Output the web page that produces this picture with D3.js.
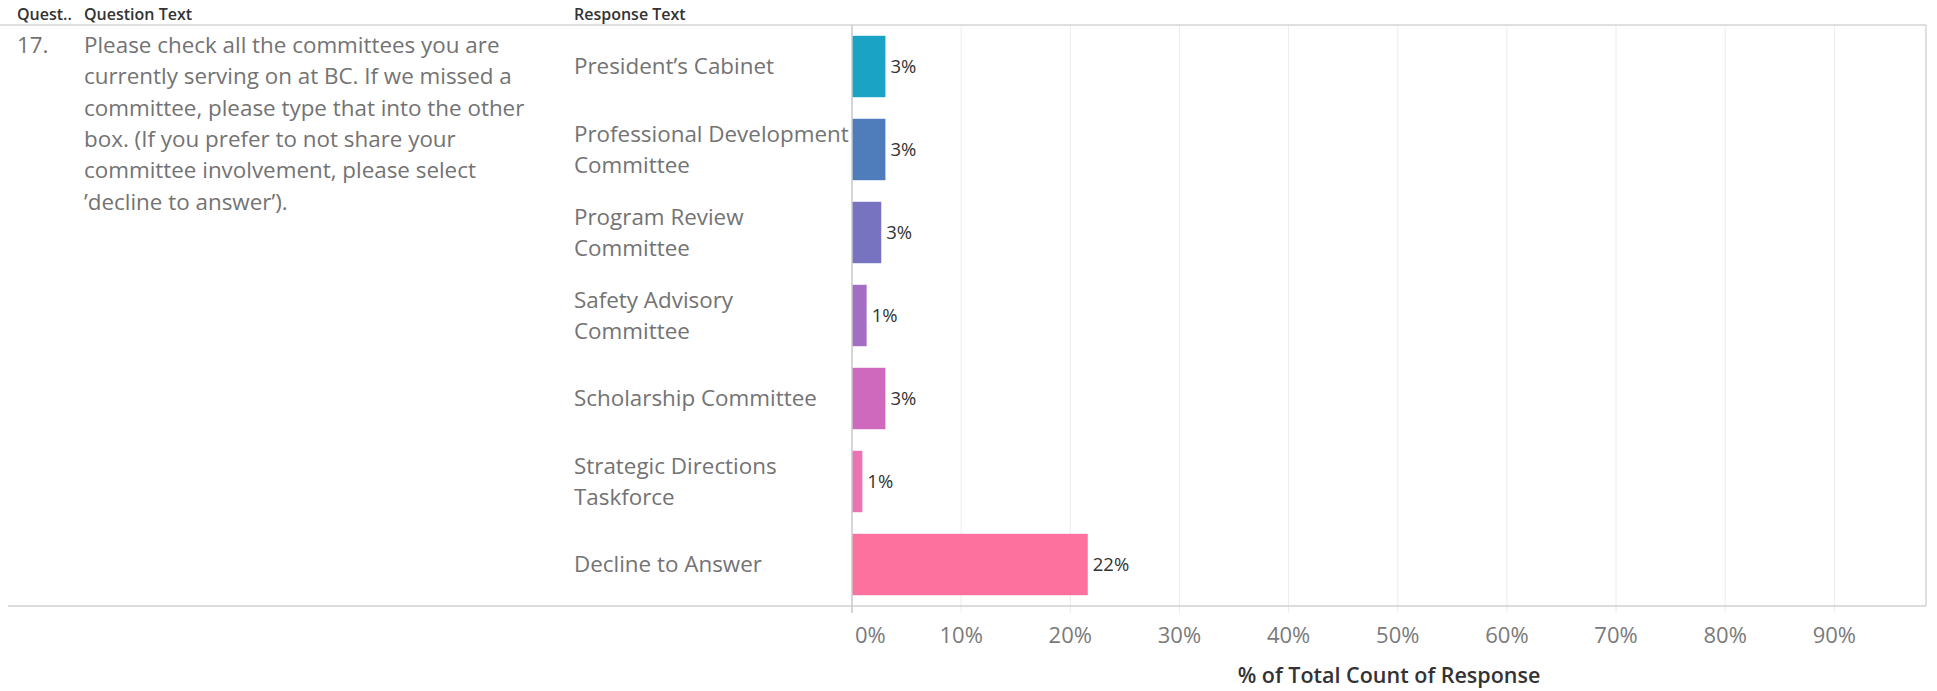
<!DOCTYPE html>
<html>
<head>
<meta charset="utf-8">
<script src="https://cdn.jsdelivr.net/npm/d3@7"></script>
<style>
  html, body { margin: 0; padding: 0; background: #fff; }
  svg { display: block; font-family: "Open Sans", "Noto Sans", sans-serif; }
</style>
</head>
<body>
<div id="chart"></div>
<script>
// Response categories (label lines as wrapped in the original)
const responses = [
  ['President\u2019s Cabinet'],
  ['Professional Development', 'Committee'],
  ['Program Review', 'Committee'],
  ['Safety Advisory', 'Committee'],
  ['Scholarship Committee'],
  ['Strategic Directions', 'Taskforce'],
  ['Decline to Answer']
];
// % of total count of response
const pctValues = [3.06, 3.06, 2.68, 1.34, 3.06, 0.95, 21.6];
const barColors = ['#1ba3c6', '#4f7cba', '#7873c0', '#a26dc2', '#ce69be', '#eb73b3', '#fc719e'];
const xTicks = [0, 10, 20, 30, 40, 50, 60, 70, 80, 90];

const questionNo = '17.';
const questionLines = [
  'Please check all the committees you are',
  'currently serving on at BC. If we missed a',
  'committee, please type that into the other',
  'box. (If you prefer to not share your',
  'committee involvement, please select',
  '\u2019decline to answer\u2019).'
];
const headers = ['Quest..', 'Question Text', 'Response Text'];

const W = 1937, H = 691;
const paneTop = 25, paneBottom = 606, x0 = 852, paneRight = 1926;
const textGray = '#737373';

const svg = d3.select('#chart').append('svg')
  .attr('width', W).attr('height', H);

const x = d3.scaleLinear().domain([0, (paneRight - x0) / 10.915]).range([x0, paneRight]);
const y = d3.scaleBand().domain(d3.range(responses.length))
  .range([paneTop, paneBottom]).paddingInner(0.26).paddingOuter(0.13);

// gridlines
svg.selectAll('.grid').data(xTicks.filter(d => d > 0)).enter().append('line')
  .attr('x1', d => x(d)).attr('x2', d => x(d))
  .attr('y1', paneTop).attr('y2', paneBottom + 7)
  .attr('stroke', '#ececec').attr('stroke-width', 1);

// tick mark below the zero line
svg.append('line').attr('x1', x(0)).attr('x2', x(0))
  .attr('y1', paneBottom).attr('y2', paneBottom + 7)
  .attr('stroke', '#ececec');

// header
const hdrX = [17, 84, 574];
svg.selectAll('.hdr').data(headers).enter().append('text')
  .attr('x', (d, i) => hdrX[i]).attr('y', 20)
  .attr('font-size', 16).attr('font-weight', 600).attr('fill', '#333')
  .text(d => d);
svg.append('line').attr('x1', 0).attr('x2', paneRight).attr('y1', paneTop).attr('y2', paneTop)
  .attr('stroke', '#d4d4d4').attr('stroke-width', 1.5);

// bottom border + right border
svg.append('line').attr('x1', 8).attr('x2', paneRight).attr('y1', paneBottom).attr('y2', paneBottom)
  .attr('stroke', '#d0d0d0').attr('stroke-width', 1.5);
svg.append('line').attr('x1', paneRight).attr('x2', paneRight).attr('y1', paneTop).attr('y2', paneBottom)
  .attr('stroke', '#d4d4d4').attr('stroke-width', 1.5);

// question text
svg.append('text').attr('x', 17).attr('y', 45).attr('dy', '0.35em')
  .attr('font-size', 22.4).attr('fill', textGray).text(questionNo);
svg.append('g').selectAll('text').data(questionLines).enter().append('text')
  .attr('x', 84).attr('y', (d, i) => 45 + i * 31.4).attr('dy', '0.35em')
  .attr('font-size', 22.4).attr('fill', textGray)
  .text(d => d);

// response labels
const rows = svg.append('g').selectAll('g').data(responses).enter().append('g');
rows.each(function (lines, i) {
  const cy = y(i) + y.bandwidth() / 2;
  d3.select(this).selectAll('text').data(lines).enter().append('text')
    .attr('x', 574)
    .attr('y', (d, j) => cy + (j - (lines.length - 1) / 2) * 31)
    .attr('dy', '0.35em')
    .attr('font-size', 22.4).attr('fill', textGray)
    .text(d => d);
});

// bars
svg.selectAll('.bar').data(pctValues).enter().append('rect')
  .attr('x', x(0)).attr('y', (d, i) => y(i))
  .attr('width', d => x(d) - x(0)).attr('height', y.bandwidth())
  .attr('fill', (d, i) => barColors[i]);

// bar labels
svg.selectAll('.lbl').data(pctValues).enter().append('text')
  .attr('x', d => x(d) + 5).attr('y', (d, i) => y(i) + y.bandwidth() / 2)
  .attr('dy', '0.35em').attr('font-size', 18.5).attr('fill', '#333')
  .text(d => Math.round(d) + '%');

// zero line
svg.append('line').attr('x1', x(0)).attr('x2', x(0))
  .attr('y1', paneTop).attr('y2', paneBottom + 7)
  .attr('stroke', '#c8c8c8').attr('stroke-width', 1.5);

// x axis labels
svg.selectAll('.tick').data(xTicks).enter().append('text')
  .attr('x', d => d === 0 ? x(d) + 3 : x(d))
  .attr('y', 635).attr('dy', '0.35em')
  .attr('text-anchor', d => d === 0 ? 'start' : 'middle')
  .attr('font-size', 22).attr('fill', '#7a7a7a')
  .text(d => d + '%');

svg.append('text').attr('x', (x0 + paneRight) / 2).attr('y', 675).attr('dy', '0.35em')
  .attr('text-anchor', 'middle').attr('font-size', 21.5).attr('font-weight', 600)
  .attr('fill', '#333').text('% of Total Count of Response');
</script>
</body>
</html>
